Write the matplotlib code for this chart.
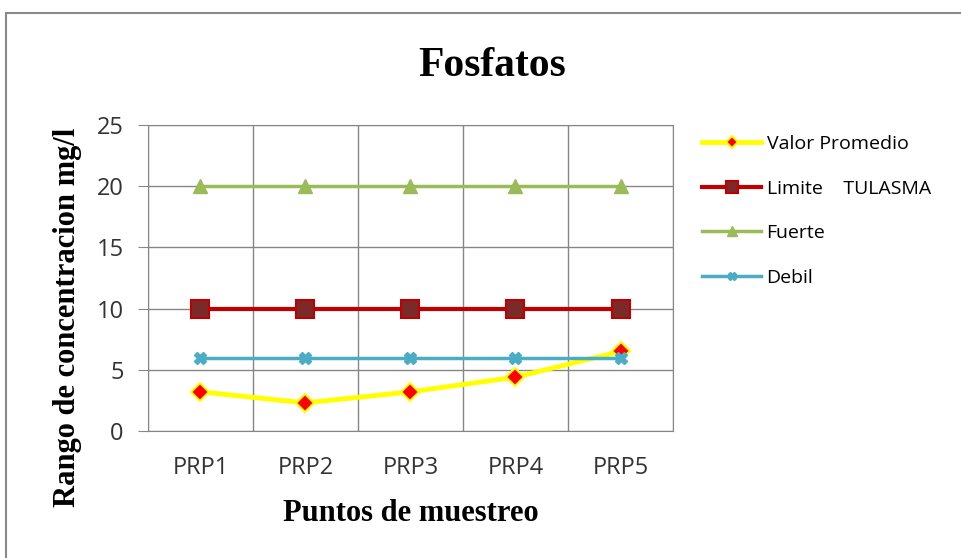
import matplotlib.pyplot as plt
from matplotlib.patches import Rectangle

puntos = ["PRP1", "PRP2", "PRP3", "PRP4", "PRP5"]
valor_promedio = [3.2, 2.3, 3.2, 4.4, 6.5]
limite_tulasma = [10, 10, 10, 10, 10]
fuerte = [20, 20, 20, 20, 20]
debil = [6, 6, 6, 6, 6]

plt.rcParams["font.family"] = ["Open Sans", "DejaVu Sans"]

fig = plt.figure(figsize=(9.62, 5.58), dpi=100)
ax = fig.add_axes([0.1538, 0.2276, 0.5458, 0.5484])

# marco exterior del grafico
fig.patches.append(Rectangle((6 / 962, -0.1), 1.2, (558 - 13) / 558 + 0.1,
                             transform=fig.transFigure, fill=False,
                             edgecolor="#8a8a8a", linewidth=1.5))

x = list(range(1, len(puntos) + 1))

ax.plot(x, valor_promedio, color="#FFFF00", linewidth=3.5, marker="D",
        markersize=9, markerfacecolor="#FF0000", markeredgecolor="#FFFF00",
        markeredgewidth=1.5, label="Valor Promedio")
ax.plot(x, limite_tulasma, color="#C00000", linewidth=3, marker="s",
        markersize=13, markerfacecolor="#7B2A2A", markeredgecolor="#C00000",
        markeredgewidth=1.5, label="Limite    TULASMA")
ax.plot(x, fuerte, color="#9BBB59", linewidth=2.5, marker="^",
        markersize=10, markerfacecolor="#9BBB59", markeredgecolor="#9BBB59",
        label="Fuerte")
ax.plot(x, debil, color="#4BACC6", linewidth=2.5, marker="X",
        markersize=9, markerfacecolor="#4BACC6", markeredgecolor="#4BACC6",
        label="Debil")

ax.set_xlim(0.5, len(puntos) + 0.5)
ax.set_ylim(0, 25)
ax.set_yticks([0, 5, 10, 15, 20, 25])
ax.set_xticks(x)
ax.set_xticklabels(puntos)
ax.set_xticks([i + 0.5 for i in range(0, len(puntos) + 1)], minor=True)

ax.grid(which="major", axis="y", color="#868686", linewidth=1)
ax.grid(which="minor", axis="x", color="#868686", linewidth=1)
ax.set_axisbelow(True)
for s in ax.spines.values():
    s.set_color("#868686")
ax.tick_params(axis="x", which="both", length=0, labelsize=17, pad=18,
               colors="#333333")
ax.tick_params(axis="y", length=7, color="#868686", labelsize=17, pad=10.5,
               labelcolor="#333333")

ax.set_xlabel("Puntos de muestreo", family="Liberation Serif",
              fontweight="bold", fontsize=22)
ax.xaxis.set_label_coords(0.5, -0.268)
ax.xaxis.label.set_va("center")
ax.set_ylabel("Rango de concentracion mg/l", family="Liberation Serif",
              fontweight="bold", fontsize=22)
ax.yaxis.set_label_coords(-0.154, 0.3725)
ax.yaxis.label.set_va("center")

fig.text(0.512, 0.882, "Fosfatos", family="Liberation Serif",
         fontweight="bold", fontsize=30, ha="center", va="center")

fig.legend(loc="upper left", bbox_to_anchor=(0.722, 0.772), frameon=False,
           fontsize=14, handlelength=3.0, handletextpad=0.3,
           labelspacing=1.37, borderaxespad=0, markerscale=0.65)

fig.savefig("out.png", dpi=100)
